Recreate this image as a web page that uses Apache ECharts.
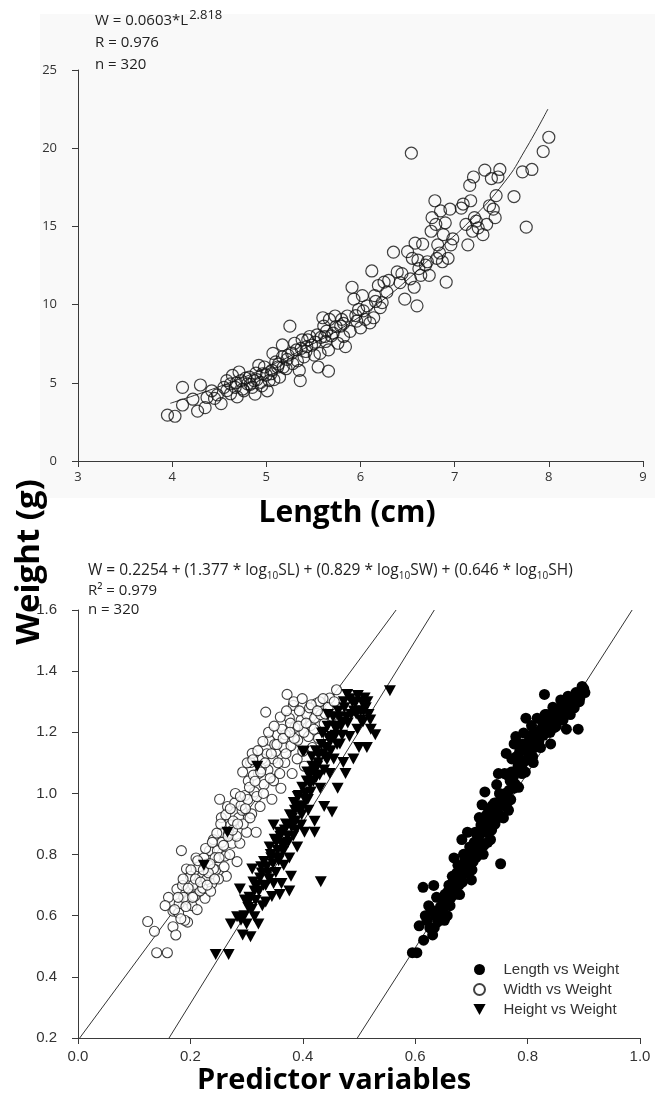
<!DOCTYPE html>
<html>
<head>
<meta charset="utf-8">
<script src="https://cdn.jsdelivr.net/npm/echarts@6/dist/echarts.min.js"></script>
<style>html,body{margin:0;padding:0;background:#fff;}#c{width:660px;height:1099px;}</style>
</head>
<body>
<div id="c"></div>
<script>
// ---------- Top panel: Length (cm) vs Weight (g) ----------
const topLength = [3.95,4.03,4.11,4.11,4.22,4.27,4.30,4.35,4.37,4.42,4.48,4.52,4.55,4.58,4.64,4.67,4.69,4.71,4.73,4.76,4.80,4.82,4.85,4.88,4.89,4.92,4.94,4.96,4.98,5.01,5.03,5.05,5.07,5.10,5.12,5.14,5.17,5.17,5.21,5.23,5.25,5.28,5.30,5.32,5.35,5.36,5.38,5.40,5.43,5.46,5.51,5.54,5.55,5.57,5.60,5.61,5.63,5.66,5.66,5.67,5.71,5.73,5.76,5.79,5.82,5.84,5.86,5.89,5.91,5.93,5.96,5.98,6.00,6.02,6.05,6.07,6.10,6.12,6.14,6.15,6.19,6.21,6.23,6.25,6.30,6.35,6.39,6.44,6.47,6.50,6.53,6.54,6.55,6.57,6.58,6.60,6.61,6.64,6.66,6.69,6.73,6.75,6.76,6.79,6.81,6.82,6.85,6.87,6.88,6.90,6.91,6.93,6.95,6.96,7.07,7.09,7.12,7.14,7.16,7.17,7.19,7.20,7.23,7.25,7.30,7.32,7.34,7.37,7.39,7.41,7.43,7.44,7.46,7.48,7.63,7.72,7.76,7.82,7.94,8.00,4.62,4.87,5.44,5.62,5.80,6.71,6.80,7.21,4.45,4.58,4.62,4.68,4.75,4.78,4.83,4.90,4.95,5.00,5.06,5.08,5.13,5.18,5.22,5.27,5.33,5.37,5.42,5.48,5.52,5.58,5.64,5.69,5.74,5.82,5.95,6.03,6.16,6.28,6.42,6.62,6.84,6.98];
const topWeight = [2.93,2.86,4.71,3.58,3.95,3.19,4.86,3.41,4.06,4.49,4.23,3.67,4.71,5.14,5.47,4.71,4.10,5.69,5.14,4.49,4.93,5.36,4.71,4.28,5.62,6.12,5.03,5.58,6.01,4.49,5.14,5.58,6.88,6.34,6.01,5.36,7.42,6.66,5.90,6.77,8.62,6.23,7.53,7.10,5.79,5.14,7.75,6.66,7.31,7.96,6.77,8.07,6.01,6.88,9.16,8.62,7.64,5.75,7.10,9.05,8.18,9.27,7.53,8.62,7.96,7.31,9.27,8.29,11.11,10.35,8.94,9.70,8.51,10.57,9.05,9.92,8.83,12.15,9.16,10.57,11.22,9.81,10.13,11.44,11.55,13.35,12.09,11.98,10.35,13.39,11.65,19.68,12.96,11.11,13.93,9.92,12.85,11.87,13.87,12.52,11.87,14.69,15.56,16.64,12.96,13.82,15.99,12.74,14.47,15.23,11.44,12.96,16.10,13.82,16.17,16.43,15.13,13.82,17.62,16.64,14.69,18.16,15.34,14.91,14.47,18.60,15.13,16.32,18.06,16.10,15.56,16.97,18.16,18.64,16.91,18.49,14.95,18.64,19.79,20.70,4.93,5.14,7.75,7.96,9.05,12.74,15.13,15.56,4.0,4.5,4.3,5.0,4.6,5.3,4.9,5.2,4.8,5.5,5.8,5.2,6.2,6.0,6.5,6.9,6.4,7.2,7.0,7.4,7.6,7.9,8.3,8.0,8.6,8.8,9.3,9.6,10.2,10.8,11.4,12.3,13.3,14.2];
const fitLength = [3.98,4.53,5.01,5.44,5.89,6.25,6.53,6.85,7.16,7.53,7.75,7.99];
const fitWeight = [3.69,4.82,6.01,7.31,8.83,10.35,11.76,13.61,15.34,17.84,19.90,22.50];
const topXTicks = {min: 3, max: 9, interval: 1};
const topYTicks = {min: 0, max: 25, interval: 5};

// ---------- Bottom panel: predictor variables vs weight ----------
const seriesNames = ['Length vs Weight', 'Width vs Weight', 'Height vs Weight'];
const widthX = [0.124,0.136,0.140,0.159,0.161,0.169,0.174,0.169,0.184,0.176,0.186,0.193,0.197,0.195,0.207,0.210,0.214,0.221,0.226,0.231,0.234,0.238,0.241,0.245,0.248,0.252,0.255,0.257,0.262,0.264,0.266,0.272,0.274,0.279,0.283,0.286,0.288,0.292,0.297,0.300,0.303,0.307,0.309,0.310,0.314,0.317,0.321,0.324,0.328,0.331,0.334,0.338,0.341,0.345,0.347,0.348,0.352,0.355,0.359,0.361,0.366,0.368,0.369,0.372,0.376,0.379,0.381,0.383,0.386,0.390,0.391,0.397,0.400,0.403,0.407,0.410,0.414,0.417,0.421,0.424,0.428,0.432,0.438,0.445,0.448,0.460,0.452,0.155,0.179,0.190,0.203,0.217,0.228,0.241,0.224,0.200,0.180,0.188,0.205,0.212,0.215,0.222,0.232,0.236,0.244,0.250,0.256,0.260,0.268,0.270,0.276,0.282,0.290,0.294,0.302,0.306,0.312,0.318,0.326,0.330,0.336,0.342,0.350,0.356,0.363,0.370,0.378,0.385,0.394,0.402,0.412,0.420,0.430,0.440,0.172,0.178,0.183,0.187,0.192,0.196,0.201,0.204,0.209,0.213,0.218,0.223,0.227,0.230,0.235,0.239,0.243,0.247,0.251,0.254,0.259,0.263,0.267,0.271,0.275,0.280,0.284,0.289,0.293,0.298,0.301,0.305,0.311,0.315,0.320,0.325,0.329,0.333,0.339,0.344,0.349,0.354,0.360,0.365,0.371,0.377,0.384,0.392,0.399,0.406,0.415,0.426,0.436,0.456];
const widthY = [0.581,0.549,0.479,0.479,0.660,0.564,0.537,0.615,0.813,0.687,0.699,0.753,0.651,0.579,0.663,0.789,0.699,0.729,0.657,0.771,0.813,0.705,0.849,0.750,0.813,0.981,0.921,0.873,0.795,0.729,0.957,0.897,0.837,0.969,0.777,0.921,0.837,0.945,0.993,0.873,1.041,1.101,0.933,1.131,1.005,0.873,1.065,0.957,1.113,1.029,1.266,1.077,1.174,0.981,1.113,1.041,1.138,1.192,1.065,1.017,1.150,1.101,1.192,1.324,1.246,1.156,1.065,1.288,1.216,1.113,1.174,1.240,1.138,1.089,1.258,1.186,1.222,1.150,1.246,1.294,1.180,1.258,1.228,1.282,1.312,1.339,1.252,0.633,0.609,0.585,0.633,0.681,0.717,0.753,0.789,0.729,0.640,0.660,0.700,0.620,0.760,0.690,0.740,0.680,0.790,0.720,0.840,0.760,0.870,0.800,0.910,0.860,0.960,0.900,0.980,0.920,1.060,0.990,1.080,1.000,1.130,1.050,1.160,1.100,1.210,1.130,1.230,1.180,1.270,1.200,1.280,1.210,1.300,1.260,0.62,0.66,0.59,0.72,0.63,0.69,0.75,0.66,0.72,0.78,0.71,0.75,0.82,0.70,0.77,0.84,0.72,0.87,0.79,0.90,0.83,0.93,0.86,0.95,0.88,1.00,0.90,0.99,1.07,0.95,1.10,1.02,1.11,1.04,1.14,1.07,1.17,1.10,1.20,1.13,1.22,1.16,1.25,1.18,1.27,1.20,1.30,1.22,1.31,1.23,1.29,1.27,1.31,1.30];
const heightX = [0.245,0.268,0.272,0.290,0.293,0.307,0.288,0.297,0.303,0.310,0.314,0.321,0.324,0.328,0.331,0.334,0.341,0.345,0.348,0.352,0.355,0.359,0.362,0.366,0.369,0.372,0.376,0.379,0.383,0.386,0.390,0.393,0.397,0.400,0.402,0.403,0.407,0.410,0.414,0.417,0.421,0.424,0.428,0.431,0.432,0.434,0.438,0.441,0.445,0.448,0.452,0.455,0.459,0.462,0.466,0.469,0.472,0.476,0.479,0.483,0.486,0.490,0.493,0.497,0.500,0.503,0.507,0.510,0.514,0.517,0.521,0.529,0.555,0.452,0.438,0.421,0.319,0.266,0.224,0.400,0.300,0.283,0.314,0.334,0.348,0.359,0.376,0.305,0.318,0.326,0.338,0.344,0.350,0.357,0.364,0.370,0.374,0.381,0.388,0.392,0.398,0.405,0.409,0.412,0.419,0.426,0.430,0.436,0.443,0.447,0.450,0.457,0.461,0.465,0.470,0.474,0.480,0.488,0.495,0.505,0.512,0.296,0.302,0.309,0.312,0.316,0.322,0.327,0.330,0.336,0.340,0.343,0.347,0.353,0.356,0.360,0.365,0.368,0.373,0.377,0.380,0.384,0.387,0.391,0.395,0.399,0.404,0.408,0.413,0.416,0.420,0.423,0.427,0.433,0.437,0.440,0.444,0.449,0.454,0.458,0.463,0.468,0.473,0.478,0.484,0.491,0.498,0.503,0.508,0.515,0.520];
const heightY = [0.473,0.473,0.573,0.585,0.537,0.531,0.687,0.651,0.627,0.753,0.681,0.573,0.723,0.633,0.777,0.699,0.825,0.663,0.897,0.741,0.813,0.873,0.705,0.765,0.837,0.897,0.789,0.729,0.861,0.945,0.825,0.993,0.897,0.957,1.138,0.873,1.041,0.945,1.005,1.089,0.909,1.053,1.126,1.017,0.711,1.198,1.077,1.150,1.258,1.065,1.186,1.113,1.210,1.017,1.162,1.234,1.101,1.065,1.324,1.186,1.258,1.113,1.294,1.210,1.150,1.270,1.234,1.312,1.150,1.258,1.210,1.192,1.336,0.939,0.957,0.873,1.089,0.873,0.765,1.138,0.573,0.597,0.597,0.645,0.705,0.669,0.681,0.660,0.700,0.760,0.740,0.790,0.850,0.780,0.830,0.900,0.840,0.920,0.880,0.960,0.930,1.000,0.980,1.060,1.040,1.090,1.060,1.130,1.110,1.180,1.140,1.220,1.160,1.250,1.190,1.280,1.230,1.300,1.260,1.300,1.280,0.60,0.64,0.62,0.71,0.65,0.68,0.74,0.70,0.76,0.72,0.80,0.77,0.84,0.79,0.86,0.81,0.88,0.86,0.93,0.89,0.97,0.91,0.99,0.95,1.02,0.98,1.07,1.03,1.12,1.07,1.14,1.10,1.16,1.20,1.12,1.22,1.17,1.25,1.19,1.27,1.22,1.30,1.25,1.31,1.27,1.32,1.24,1.27,1.30,1.24];
const lengthX = [0.595,0.603,0.607,0.614,0.633,0.621,0.631,0.634,0.641,0.652,0.648,0.659,0.662,0.666,0.672,0.676,0.679,0.686,0.690,0.697,0.700,0.703,0.707,0.710,0.717,0.719,0.721,0.728,0.731,0.734,0.741,0.745,0.748,0.752,0.755,0.759,0.762,0.766,0.769,0.772,0.776,0.779,0.783,0.786,0.790,0.793,0.797,0.800,0.803,0.807,0.810,0.814,0.817,0.824,0.830,0.831,0.838,0.841,0.845,0.852,0.859,0.866,0.869,0.872,0.879,0.886,0.890,0.893,0.900,0.624,0.669,0.683,0.693,0.714,0.724,0.738,0.748,0.762,0.776,0.790,0.817,0.834,0.848,0.876,0.640,0.645,0.655,0.660,0.668,0.674,0.682,0.688,0.694,0.699,0.706,0.712,0.716,0.723,0.727,0.733,0.737,0.743,0.750,0.757,0.764,0.771,0.780,0.788,0.795,0.805,0.812,0.820,0.827,0.836,0.843,0.856,0.863,0.882,0.896,0.615,0.618,0.626,0.628,0.636,0.638,0.644,0.650,0.653,0.657,0.658,0.664,0.667,0.671,0.673,0.678,0.681,0.684,0.687,0.692,0.695,0.698,0.701,0.705,0.708,0.711,0.713,0.718,0.722,0.726,0.729,0.732,0.736,0.739,0.742,0.746,0.750,0.753,0.757,0.760,0.764,0.767,0.770,0.774,0.778,0.781,0.784,0.787,0.792,0.796,0.799,0.802,0.806,0.809,0.813,0.816,0.820,0.823,0.828,0.833,0.836,0.840,0.844,0.848,0.851,0.855,0.858,0.862,0.866,0.870,0.874,0.878,0.883,0.887,0.892,0.897,0.902];
const lengthY = [0.479,0.479,0.567,0.693,0.699,0.585,0.537,0.561,0.615,0.585,0.657,0.681,0.633,0.729,0.705,0.765,0.669,0.801,0.741,0.825,0.717,0.777,0.873,0.825,0.897,0.963,0.801,0.873,0.945,0.849,0.969,1.029,0.921,0.770,0.993,1.065,1.131,0.945,1.041,1.113,1.017,1.186,1.089,1.138,1.065,1.198,1.246,1.138,1.174,1.222,1.101,1.186,1.246,1.210,1.324,1.258,1.222,1.162,1.282,1.246,1.306,1.270,1.210,1.318,1.294,1.330,1.210,1.312,1.342,0.633,0.789,0.849,0.873,0.921,1.005,0.909,1.065,0.993,1.162,1.162,1.162,1.258,1.216,1.258,0.580,0.630,0.640,0.700,0.680,0.740,0.720,0.780,0.760,0.810,0.800,0.860,0.840,0.900,0.930,0.900,0.960,0.950,1.000,0.970,1.060,1.070,1.120,1.110,1.150,1.190,1.150,1.200,1.230,1.200,1.250,1.270,1.240,1.300,1.330,0.52,0.60,0.56,0.62,0.60,0.66,0.60,0.61,0.67,0.60,0.66,0.66,0.71,0.67,0.72,0.70,0.76,0.71,0.75,0.79,0.74,0.78,0.75,0.84,0.79,0.85,0.80,0.87,0.83,0.88,0.84,0.92,0.88,0.93,0.90,0.97,0.93,0.96,0.92,1.00,0.97,1.01,0.98,1.05,1.03,1.07,1.02,1.09,1.10,1.07,1.11,1.13,1.15,1.12,1.16,1.20,1.17,1.15,1.19,1.21,1.24,1.20,1.23,1.26,1.22,1.25,1.28,1.27,1.30,1.26,1.29,1.31,1.28,1.32,1.30,1.35,1.33];
// regression lines (end points)
const widthFitX = [0.003, 0.566], widthFitY = [0.2, 1.6];
const heightFitX = [0.162, 0.634], heightFitY = [0.2, 1.6];
const lengthFitX = [0.497, 0.986], lengthFitY = [0.2, 1.6];
const botXTicks = {min: 0, max: 1, interval: 0.2};
const botYTicks = {min: 0.2, max: 1.6, interval: 0.2};

const pairs = (xs, ys) => xs.map((x, i) => [x, ys[i]]);

const AX = '#3a3a3a';
const TICK_TOP = {fontFamily: 'Open Sans', fontSize: 13, color: '#333'};
const TICK_BOT = {fontFamily: 'Liberation Sans', fontSize: 15, color: '#333'};
const EQ = '"Open Sans"';

// width of the base of the top equation, to place its exponent
const mctx = document.createElement('canvas').getContext('2d');
mctx.font = '15px ' + EQ;
const eqBase = 'W = 0.0603*L';
const eqBaseW = mctx.measureText(eqBase).width;

const chart = echarts.init(document.getElementById('c'), null, {renderer: 'canvas'});
chart.setOption({
  animation: false,
  backgroundColor: '#fff',
  grid: [
    {left: 78, right: 17, top: 70, bottom: 638},
    {left: 78, right: 20, top: 610, bottom: 61}
  ],
  xAxis: [
    {gridIndex: 0, type: 'value', min: topXTicks.min, max: topXTicks.max, interval: topXTicks.interval,
     axisLine: {lineStyle: {color: AX, width: 1}}, axisTick: {length: 6, lineStyle: {color: AX}},
     splitLine: {show: false}, axisLabel: Object.assign({margin: 10}, TICK_TOP)},
    {gridIndex: 1, type: 'value', min: botXTicks.min, max: botXTicks.max, interval: botXTicks.interval,
     axisLine: {lineStyle: {color: AX, width: 1}}, axisTick: {length: 6, lineStyle: {color: AX}},
     splitLine: {show: false}, axisLabel: Object.assign({margin: 11, formatter: v => v.toFixed(1)}, TICK_BOT)}
  ],
  yAxis: [
    {gridIndex: 0, type: 'value', min: topYTicks.min, max: topYTicks.max, interval: topYTicks.interval,
     axisLine: {show: true, lineStyle: {color: AX, width: 1}}, axisTick: {show: true, length: 6, lineStyle: {color: AX}},
     splitLine: {show: false}, axisLabel: Object.assign({margin: 21}, TICK_TOP)},
    {gridIndex: 1, type: 'value', min: botYTicks.min, max: botYTicks.max, interval: botYTicks.interval,
     axisLine: {show: true, lineStyle: {color: AX, width: 1}}, axisTick: {show: true, length: 6, lineStyle: {color: AX}},
     splitLine: {show: false}, axisLabel: Object.assign({margin: 21, formatter: v => v.toFixed(1)}, TICK_BOT)}
  ],
  legend: {
    data: seriesNames, orient: 'vertical', left: 468, top: 957,
    itemWidth: 38, itemHeight: 11, itemGap: 5,
    textStyle: {fontFamily: 'Liberation Sans', fontSize: 15, color: '#333', lineHeight: 15},
    selectedMode: false
  },
  graphic: [
    {type: 'rect', z: -100, silent: true, shape: {x: 40, y: 14, width: 615, height: 484}, style: {fill: '#f9f9f9'}},
    {type: 'text', x: 95, y: 21, silent: true, style: {text: eqBase, font: '15px ' + EQ, fill: '#222', verticalAlign: 'middle'}},
    {type: 'text', x: 95 + eqBaseW + 1, y: 15, silent: true, style: {text: '2.818', font: '13px ' + EQ, fill: '#222', verticalAlign: 'middle'}},
    {type: 'text', x: 95, y: 43, silent: true, style: {text: 'R = 0.976', font: '15px ' + EQ, fill: '#222', verticalAlign: 'middle'}},
    {type: 'text', x: 95, y: 65, silent: true, style: {text: 'n = 320', font: '15px ' + EQ, fill: '#222', verticalAlign: 'middle'}},
    {type: 'text', x: 88, y: 571, silent: true, style: {
      text: '{a|W = 0.2254 + (1.377 * log}{b|10}{a|SL) + (0.829 * log}{b|10}{a|SW) + (0.646 * log}{b|10}{a|SH)}',
      verticalAlign: 'middle',
      rich: {a: {fontFamily: 'Open Sans', fontSize: 15.5, fill: '#222', lineHeight: 20},
             b: {fontFamily: 'Open Sans', fontSize: 10, fill: '#222', lineHeight: 12, verticalAlign: 'bottom'}}}},
    {type: 'text', x: 88, y: 591, silent: true, style: {text: 'R\u00b2 = 0.979', font: '15px ' + EQ, fill: '#222', verticalAlign: 'middle'}},
    {type: 'text', x: 88, y: 610, silent: true, style: {text: 'n = 320', font: '15px ' + EQ, fill: '#222', verticalAlign: 'middle'}},
    {type: 'text', x: 347, y: 513, silent: true, style: {
      text: 'Length (cm)', font: 'bold 30px "Open Sans"', fill: '#000', align: 'center', verticalAlign: 'middle'}},
    {type: 'text', x: 334, y: 1081, silent: true, style: {
      text: 'Predictor variables', font: 'bold 29px "Open Sans"', fill: '#000', align: 'center', verticalAlign: 'middle'}},
    {type: 'text', x: 30, y: 562, rotation: Math.PI / 2, silent: true, style: {
      text: 'Weight (g)', font: 'bold 33px "Open Sans"', fill: '#000', align: 'center', verticalAlign: 'middle'}}
  ],
  series: [
    {type: 'line', xAxisIndex: 0, yAxisIndex: 0, data: pairs(fitLength, fitWeight), smooth: true,
     symbol: 'none', lineStyle: {color: '#333', width: 1}, z: 1, silent: true},
    {type: 'scatter', xAxisIndex: 0, yAxisIndex: 0, data: pairs(topLength, topWeight), symbol: 'circle',
     symbolSize: 12, itemStyle: {color: 'rgba(0,0,0,0)', borderColor: '#111', borderWidth: 1.2}, z: 2, silent: true},
    {type: 'line', xAxisIndex: 1, yAxisIndex: 1, data: pairs(widthFitX, widthFitY), symbol: 'none',
     lineStyle: {color: '#333', width: 1}, z: 1, silent: true},
    {type: 'line', xAxisIndex: 1, yAxisIndex: 1, data: pairs(heightFitX, heightFitY), symbol: 'none',
     lineStyle: {color: '#333', width: 1}, z: 1, silent: true},
    {type: 'line', xAxisIndex: 1, yAxisIndex: 1, data: pairs(lengthFitX, lengthFitY), symbol: 'none',
     lineStyle: {color: '#333', width: 1}, z: 1, silent: true},
    {name: seriesNames[1], type: 'scatter', xAxisIndex: 1, yAxisIndex: 1, data: pairs(widthX, widthY),
     symbol: 'circle', symbolSize: 10, itemStyle: {color: '#fff', borderColor: '#111', borderWidth: 1.1}, z: 2, silent: true},
    {name: seriesNames[2], type: 'scatter', xAxisIndex: 1, yAxisIndex: 1, data: pairs(heightX, heightY),
     symbol: 'path://M0,0L10,0L5,9Z', symbolSize: [12, 11], itemStyle: {color: '#000', opacity: 1}, z: 3, silent: true},
    {name: seriesNames[0], type: 'scatter', xAxisIndex: 1, yAxisIndex: 1, data: pairs(lengthX, lengthY),
     symbol: 'circle', symbolSize: 11, itemStyle: {color: '#000', opacity: 1}, z: 3, silent: true}
  ]
});
</script>
</body>
</html>
